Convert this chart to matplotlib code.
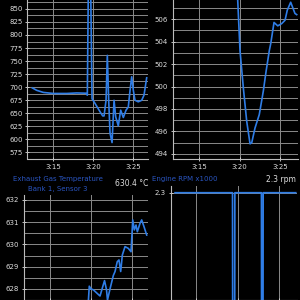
import numpy as np
import matplotlib.pyplot as plt

# time in minutes after 3:00
t_egt1 = [12.41, 12.96, 13.79, 15.04, 16.71, 17.96, 19.13, 19.29, 19.54, 19.88, 20.25, 20.88,
          21.21, 21.38, 21.63, 21.79, 21.96, 22.13, 22.38, 22.63, 22.84, 23.16, 23.46, 23.79,
          24.13, 24.41, 24.63, 24.84, 25.04, 25.25, 25.66, 26.09, 26.38, 26.71]
v_egt1 = [698.7, 694, 690, 688, 688, 689, 688.5, 684.7, 1100, 678, 669, 653,
          645, 645, 675, 761, 675, 612, 594, 675, 643, 626, 656, 642,
          656, 662, 694, 720, 694, 675, 672, 675, 685, 718]

t_tr = [19.6, 20.06, 20.47, 20.89, 21.30, 21.51, 21.91, 22.44, 22.94, 23.27, 23.68, 23.85,
        24.26, 24.72, 25.21, 25.62, 25.90, 26.32, 26.85, 27.06]
v_tr = [510.5, 503.2, 499.9, 496.9, 494.9, 495.0, 496.3, 497.5, 499.6, 501.3, 503.2, 503.8,
        505.7, 505.4, 505.6, 505.9, 506.8, 507.5, 506.5, 506.4]

t_egt3 = [19.67, 19.79, 20.0, 20.28, 20.89, 21.10, 21.43, 21.65, 21.89, 22.01, 22.32, 22.72,
          22.93, 23.2, 23.41, 23.62, 23.82, 24.15, 24.55, 24.88, 25.09, 25.28, 25.49, 25.65,
          25.98, 26.18, 26.46, 26.79]
v_egt3 = [627.4, 628.12, 628.0, 627.96, 627.75, 627.68, 628.1, 628.37, 627.96, 627.5, 628.0, 628.6,
          628.78, 629.22, 629.3, 628.78, 629.52, 629.9, 629.82, 629.67, 631.1, 630.65, 630.87, 630.57,
          630.95, 631.1, 630.8, 630.42]

t_rpm = [12.48, 19.38, 19.42, 19.62, 19.66, 22.85, 22.89, 23.02, 23.06, 26.97]
v_rpm = [2.3, 2.3, 0.0, 0.0, 2.3, 2.3, 0.0, 0.0, 2.3, 2.3]

xticks = [15, 20, 25]
xlabels = ['3:15', '3:20', '3:25']

line_c = '#2f7de6'
grid_c = '#8a8a8a'
txt_c = '#dddddd'
title_c = '#2a55c0'

fig = plt.figure(figsize=(3, 3), dpi=100, facecolor='black')


def style(ax, xlim, ylim, major, minor, show_x=True):
    ax.set_facecolor('black')
    ax.set_xlim(*xlim)
    ax.set_ylim(*ylim)
    ax.set_xticks(xticks)
    ax.set_xticklabels(xlabels if show_x else [])
    ax.set_yticks(major)
    ax.set_yticks(minor, minor=True)
    ax.grid(True, which='both', color=grid_c, lw=0.7)
    for s in ['top', 'right']:
        ax.spines[s].set_visible(False)
    for s in ['left', 'bottom']:
        ax.spines[s].set_color('#bbbbbb')
        ax.spines[s].set_linewidth(0.8)
    ax.tick_params(colors=txt_c, labelsize=5, length=3, width=0.6, direction='inout', pad=2)
    ax.tick_params(which='minor', length=0)
    ax.set_axisbelow(True)


ax1 = fig.add_axes([27.5 / 300, 141 / 300, 120.5 / 300, 159 / 300])
ax1.plot(t_egt1, v_egt1, color=line_c, lw=1.2)
style(ax1, (11.81, 26.875), (563.5, 867), np.arange(575, 851, 25), np.arange(562.5, 870, 12.5))

ax2 = fig.add_axes([172.7 / 300, 141 / 300, 124.8 / 300, 159 / 300])
ax2.plot(t_tr, v_tr, color=line_c, lw=1.2)
style(ax2, (11.75, 27.16), (493.55, 507.7), np.arange(494, 507, 2), np.arange(494, 508, 1))

ax3 = fig.add_axes([24 / 300, 0, 124 / 300, 105 / 300])
ax3.plot(t_egt3, v_egt3, color=line_c, lw=1.2)
style(ax3, (11.83, 26.95), (627.51, 632.22), [628, 629, 630, 631, 632], np.arange(627.5, 632.3, 0.5), show_x=False)

ax4 = fig.add_axes([170.7 / 300, 0, 126.3 / 300, 114 / 300])
ax4.plot(t_rpm, v_rpm, color=line_c, lw=1.2)
style(ax4, (11.96, 27.12), (1.5, 2.35), [2.3], [], show_x=False)
ax4.grid(False, axis='y', which='minor')

fig.text(58 / 300, 1 - 179.3 / 300, 'Exhaust Gas Temperature', color=title_c, fontsize=5.0, ha='center', va='center')
fig.text(58 / 300, 1 - 189 / 300, 'Bank 1, Sensor 3', color=title_c, fontsize=5.0, ha='center', va='center')
fig.text(148 / 300, 1 - 183.5 / 300, '630.4 \u00b0C', color=txt_c, fontsize=5.5, ha='right', va='center')
fig.text(152 / 300, 1 - 179.3 / 300, 'Engine RPM x1000', color=title_c, fontsize=5.0, ha='left', va='center')
fig.text(296 / 300, 1 - 179.3 / 300, '2.3 rpm', color=txt_c, fontsize=5.5, ha='right', va='center')

fig.savefig('out.png', dpi=100, facecolor='black')
